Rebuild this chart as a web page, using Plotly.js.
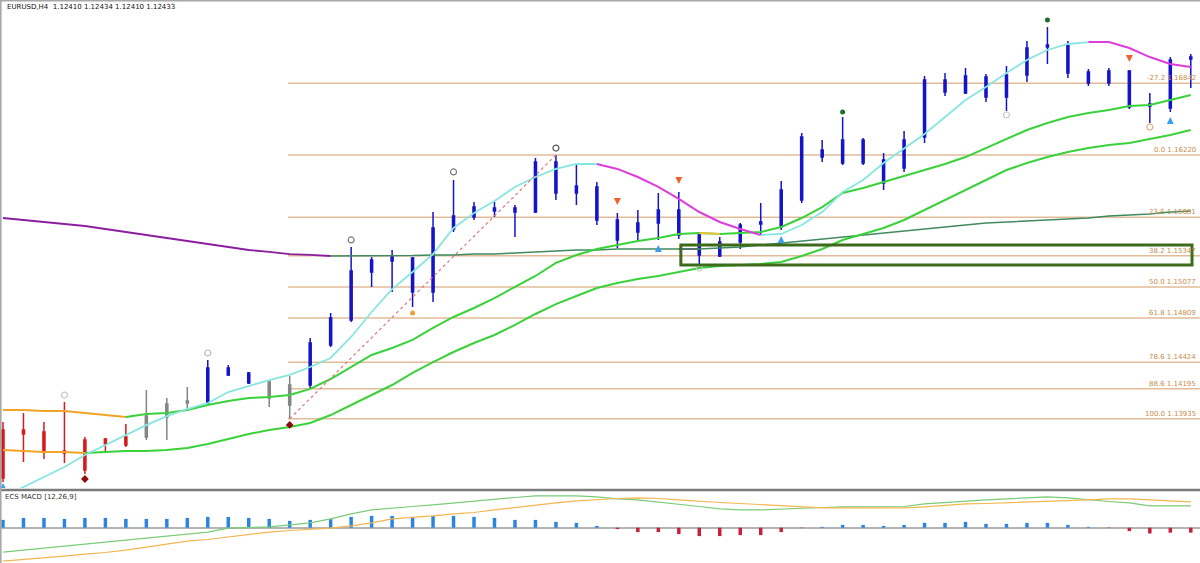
<!DOCTYPE html>
<html><head><meta charset="utf-8">
<script src="https://cdn.plot.ly/plotly-3.0.1.min.js"></script>
<style>html,body{margin:0;padding:0;background:#fff;}#chart{width:1200px;height:563px;}</style>
</head><body><div id="chart"></div>
<script>
// ---------- DATA ----------
const bars = [...Array(59).keys()];
const open  = [1.13838,1.13838,1.13821,1.13656,1.13752,1.13760,1.13778,1.13778,1.13951,1.14072,
               1.14072,1.14375,1.14332,1.14254,1.14055,1.14228,1.14574,1.14791,1.15310,1.15302,
               1.15328,1.15033,1.15579,1.15769,1.15735,1.15761,1.15726,1.16159,1.15891,1.15943,
               1.15657,1.15553,1.15631,1.15743,1.15544,1.15345,1.15466,1.15622,1.15596,1.15830,
               1.16263,1.16150,1.16350,1.16176,1.16107,1.16376,1.16869,1.16757,1.16895,1.16722,
               1.16912,1.17172,1.17172,1.16843,1.16947,1.16947,1.16644,1.16627,1.17051];
const high  = [1.13908,1.13985,1.13908,1.14081,1.13778,1.13769,1.13890,1.14185,1.14115,1.14211,
               1.14444,1.14401,1.14341,1.14263,1.14306,1.14635,1.14851,1.15423,1.15336,1.15397,
               1.15336,1.15726,1.16003,1.15813,1.15813,1.15787,1.16194,1.16220,1.16133,1.15986,
               1.15717,1.15743,1.15891,1.15899,1.15553,1.15510,1.15631,1.15804,1.15995,1.16410,
               1.16350,1.16549,1.16367,1.16237,1.16428,1.16904,1.16930,1.16973,1.16921,1.16990,
               1.17207,1.17328,1.17207,1.16964,1.16973,1.16956,1.16757,1.17068,1.17094];
const low   = [1.13388,1.13561,1.13587,1.13552,1.13457,1.13648,1.13691,1.13752,1.13752,1.14011,
               1.14063,1.14306,1.14237,1.14037,1.13935,1.14202,1.14557,1.14774,1.15077,1.15033,
               1.14903,1.14947,1.15553,1.15657,1.15683,1.15510,1.15717,1.15830,1.15787,1.15614,
               1.15414,1.15466,1.15484,1.15492,1.15276,1.15336,1.15406,1.15527,1.15570,1.15804,
               1.16159,1.16133,1.16133,1.15917,1.16072,1.16324,1.16731,1.16748,1.16679,1.16601,
               1.16852,1.17008,1.16887,1.16817,1.16817,1.16618,1.16497,1.16592,1.16800];
const close = [1.13423,1.13804,1.13648,1.13639,1.13492,1.13717,1.13708,1.13959,1.14063,1.14089,
               1.14375,1.14315,1.14245,1.14115,1.14228,1.14592,1.14808,1.15215,1.15207,1.15336,
               1.15033,1.15588,1.15691,1.15683,1.15761,1.15726,1.16159,1.15891,1.15951,1.15657,
               1.15484,1.15631,1.15743,1.15527,1.15354,1.15466,1.15614,1.15640,1.15917,1.16376,
               1.16202,1.16350,1.16150,1.15977,1.16350,1.16869,1.16765,1.16904,1.16722,1.16912,
               1.17146,1.17155,1.16930,1.16938,1.16843,1.16635,1.16661,1.17042,1.17068];
// indicator state of each candle: bear (red), flat (gray), bull (blue)
const candleState = ['bear','bear','bear','bear','bear','bear','bear','flat','flat','flat',
                     'bull','bull','bull','flat','flat','bull','bull','bull','bull','bull',
                     'bull','bull','bull','bull','bull','bull','bull','bull','bull','bull',
                     'bull','bull','bull','bull','bull','bull','bull','bull','bull','bull',
                     'bull','bull','bull','bull','bull','bull','bull','bull','bull','bull',
                     'bull','bull','bull','bull','bull','bull','bull','bull','bull'];

const maFast = [1.13258,1.13345,1.13431,1.13518,1.13622,1.13708,1.13795,1.13881,1.13959,1.14020,
                1.14072,1.14167,1.14219,1.14271,1.14315,1.14384,1.14462,1.14644,1.14860,1.15059,
                1.15207,1.15362,1.15588,1.15717,1.15821,1.15943,1.16029,1.16099,1.16142,1.16142,
                1.16099,1.16029,1.15943,1.15839,1.15726,1.15640,1.15579,1.15527,1.15536,1.15614,
                1.15726,1.15899,1.16003,1.16150,1.16280,1.16402,1.16549,1.16696,1.16809,1.16930,
                1.17042,1.17129,1.17181,1.17198,1.17198,1.17146,1.17068,1.17008,1.16982];
const maSlow = [1.15674,1.15657,1.15640,1.15622,1.15605,1.15579,1.15553,1.15527,1.15501,1.15475,
                1.15449,1.15423,1.15397,1.15380,1.15362,1.15354,1.15345,1.15345,1.15345,1.15345,
                1.15349,1.15354,1.15354,1.15362,1.15362,1.15371,1.15380,1.15388,1.15397,1.15397,
                1.15406,1.15406,1.15406,1.15406,1.15406,1.15414,1.15423,1.15440,1.15458,1.15475,
                1.15492,1.15510,1.15527,1.15544,1.15562,1.15579,1.15596,1.15614,1.15631,1.15640,
                1.15648,1.15657,1.15666,1.15674,1.15691,1.15700,1.15709,1.15726,1.15735];
const maMid  = [1.14011,1.14011,1.14003,1.14003,1.13985,1.13968,1.13951,1.13977,1.13985,1.14011,
                1.14055,1.14089,1.14115,1.14124,1.14141,1.14194,1.14280,1.14384,1.14488,1.14548,
                1.14618,1.14722,1.14817,1.14895,1.14981,1.15077,1.15172,1.15286,1.15354,1.15406,
                1.15440,1.15475,1.15501,1.15536,1.15544,1.15536,1.15544,1.15553,1.15596,1.15674,
                1.15769,1.15891,1.15934,1.15986,1.16038,1.16090,1.16142,1.16202,1.16280,1.16358,
                1.16436,1.16497,1.16549,1.16583,1.16609,1.16644,1.16653,1.16696,1.16739];
const maLow  = [1.13665,1.13656,1.13648,1.13648,1.13639,1.13648,1.13656,1.13656,1.13665,1.13682,
                1.13717,1.13760,1.13804,1.13838,1.13864,1.13899,1.13968,1.14055,1.14141,1.14228,
                1.14332,1.14427,1.14514,1.14592,1.14661,1.14748,1.14843,1.14929,1.14999,1.15068,
                1.15111,1.15146,1.15172,1.15207,1.15241,1.15258,1.15267,1.15276,1.15293,1.15345,
                1.15406,1.15484,1.15536,1.15588,1.15657,1.15743,1.15830,1.15917,1.16003,1.16090,
                1.16150,1.16202,1.16246,1.16280,1.16306,1.16324,1.16358,1.16393,1.16436];

const macdHist = [0.00039,0.00049,0.00049,0.00044,0.00049,0.00049,0.00044,0.00044,0.00044,0.00049,
                  0.00054,0.00054,0.00049,0.00044,0.00034,0.00039,0.00044,0.00054,0.00059,0.00059,
                  0.00054,0.00059,0.00059,0.00054,0.00049,0.00039,0.00039,0.00029,0.00024,0.00009,
                  -0.00007,-0.00022,-0.00022,-0.00032,-0.00042,-0.00042,-0.00037,-0.00037,-0.00022,-0.00002,
                  0.00004,0.00014,0.00014,0.00009,0.00014,0.00024,0.00024,0.00029,0.00019,0.00019,
                  0.00024,0.00024,0.00014,0.00004,-0.00002,-0.00017,-0.00029,-0.00025,-0.00025];
const macdMain = [-0.00122,-0.00112,-0.00102,-0.00092,-0.00082,-0.00074,-0.00064,-0.00052,-0.00042,-0.00032,
                  -0.00022,-0.00002,0.00001,0.00004,0.00014,0.00024,0.00044,0.00069,0.00089,0.00096,
                  0.00106,0.00114,0.00124,0.00134,0.00144,0.00151,0.00159,0.00159,0.00159,0.00154,
                  0.00144,0.00139,0.00129,0.00119,0.00106,0.00094,0.00089,0.00089,0.00094,0.00099,
                  0.00101,0.00104,0.00104,0.00104,0.00106,0.00119,0.00126,0.00134,0.00139,0.00144,
                  0.00149,0.00154,0.00149,0.00139,0.00131,0.00124,0.00109,0.00109,0.00109];
const macdSignal = [-0.00167,-0.00159,-0.00152,-0.00142,-0.00132,-0.00124,-0.00112,-0.00097,-0.00082,-0.00067,
                    -0.00059,-0.00047,-0.00034,-0.00022,-0.00014,-0.00009,-0.00002,0.00009,0.00024,0.00044,
                    0.00051,0.00059,0.00069,0.00076,0.00089,0.00101,0.00114,0.00124,0.00134,0.00141,
                    0.00146,0.00149,0.00146,0.00139,0.00131,0.00126,0.00121,0.00116,0.00111,0.00104,
                    0.00099,0.00099,0.00099,0.00099,0.00099,0.00104,0.00111,0.00119,0.00121,0.00124,
                    0.00129,0.00131,0.00136,0.00139,0.00144,0.00144,0.00139,0.00134,0.00129];

// Fibonacci retracement (anchored low bar 14 -> high bar 27)
const fibLevels = ['-27.2','0.0','23.6','38.2','50.0','61.8','78.6','88.6','100.0'];
const fibPrices = [1.16842,1.16220,1.15681,1.15347,1.15077,1.14809,1.14424,1.14195,1.13935];
const fibAnchorBars = [14, 27];
const fibAnchorPrices = [1.13935, 1.16220];

// signal markers
const upArrowBars = [0, 32, 38, 57];
const upArrowPrices = [1.13379, 1.15440, 1.15518, 1.16549];
const downArrowBars = [30, 33, 55];
const downArrowPrices = [1.15787, 1.15969, 1.17025];
const diamondBars = [4, 14];
const diamondPrices = [1.13414, 1.13882];
const ringBars = [3, 10, 17, 22, 27, 34, 49, 56];
const ringPrices = [1.14141, 1.14505, 1.15484, 1.16073, 1.16280, 1.15241, 1.16566, 1.16462];
const greenDotBars = [41, 51];
const greenDotPrices = [1.16592, 1.17389];
const orangeDotBars = [20];
const orangeDotPrices = [1.14851];

// zone box (bars / prices)
const zoneBars = [33.1, 58.06];
const zonePrices = [1.15267, 1.15440];

const chartTitle = 'EURUSD,H4  1.12410 1.12434 1.12410 1.12433';
const macdTitle = 'ECS MACD [12,26,9]';

// ---------- BUILD ----------
function seg(arr, ranges) {
  return arr.map((v, i) => ranges.some(([a, b]) => i >= a && i <= b) ? v : null);
}
const stateColor = {bear: '#d41c1c', flat: '#858585', bull: '#1414c8'};
const traces = [];

function line(y, color, width, axis, dash) {
  return {type: 'scatter', mode: 'lines', x: bars, y: y, yaxis: axis || 'y',
          line: {color: color, width: width, dash: dash || 'solid'}, hoverinfo: 'skip', connectgaps: false};
}
// moving averages
traces.push(line(seg(maSlow, [[0, 16], [33, 34]]), '#8a1f9e', 1.8));
traces.push(line(seg(maSlow, [[16, 33], [34, 58]]), '#3f8a5e', 1.5));
traces.push(line(seg(maLow, [[0, 4]]), '#f0a428', 2));
traces.push(line(seg(maLow, [[4, 58]]), '#3ad23a', 2));
traces.push(line(seg(maMid, [[0, 6]]), '#f0a428', 2));
traces.push(line(seg(maMid, [[6, 34], [35, 58]]), '#3ad23a', 2));
traces.push(line(seg(maMid, [[34, 35]]), '#f0c040', 2));
traces.push(line(seg(maFast, [[0, 29], [37, 53]]), '#86e6e0', 1.8));
traces.push(line(seg(maFast, [[29, 37], [53, 58]]), '#dd3ddd', 2));

// fib anchor line
traces.push({type: 'scatter', mode: 'lines', x: fibAnchorBars, y: fibAnchorPrices,
             line: {color: '#e07878', width: 1.2, dash: 'dot'}, hoverinfo: 'skip'});

// candles by state
['bear', 'flat', 'bull'].forEach(st => {
  const ids = bars.filter(i => candleState[i] === st);
  const c = stateColor[st];
  traces.push({type: 'candlestick', x: ids, open: ids.map(i => open[i]), high: ids.map(i => high[i]),
               low: ids.map(i => low[i]), close: ids.map(i => close[i]), whiskerwidth: 0,
               increasing: {line: {color: c, width: 1.5}, fillcolor: c},
               decreasing: {line: {color: c, width: 1.5}, fillcolor: c}, hoverinfo: 'skip'});
});

// markers
function mk(x, y, symbol, color, size, lw) {
  return {type: 'scatter', mode: 'markers', x: x, y: y, hoverinfo: 'skip',
          marker: {symbol: symbol, color: color, size: size, line: {color: color, width: lw || 0}}};
}
traces.push(mk(upArrowBars, upArrowPrices, 'arrow-up', '#3c9cf0', 7));
traces.push(mk(downArrowBars, downArrowPrices, 'arrow-down', '#f0622a', 7));
traces.push(mk(diamondBars, diamondPrices, 'diamond', '#8e0c0c', 6));
traces.push({type: 'scatter', mode: 'markers', x: ringBars, y: ringPrices, hoverinfo: 'skip',
             marker: {symbol: 'circle-open', size: 6,
                      color: ['#c8c8c8', '#b8b8b8', '#7a7a7a', '#7a7a7a', '#555555', '#c8c8c8', '#c8c8c8', '#d8b488'],
                      line: {width: 1.2}}});
traces.push(mk(greenDotBars, greenDotPrices, 'circle', '#1e6e2a', 5));
traces.push(mk(orangeDotBars, orangeDotPrices, 'circle', '#f0a030', 5));

// MACD panel
traces.push({type: 'bar', x: bars, y: macdHist, yaxis: 'y2', width: 0.17,
             marker: {color: macdHist.map(v => v >= 0 ? '#2a84e0' : '#c8203c')}, hoverinfo: 'skip'});
traces.push(line(macdMain, '#7acc7a', 1.2, 'y2'));
traces.push(line(macdSignal, '#f4b650', 1.2, 'y2'));

// shapes
const shapes = [];
fibPrices.forEach(p => shapes.push({type: 'line', xref: 'x', yref: 'y', x0: fibAnchorBars[0] - 0.08, x1: 59,
  y0: p, y1: p, line: {color: '#e2bc98', width: 1.5}, layer: 'below'}));
shapes.push({type: 'rect', xref: 'x', yref: 'y', x0: zoneBars[0], x1: zoneBars[1], y0: zonePrices[0], y1: zonePrices[1],
  line: {color: '#3d6b1c', width: 3}});
shapes.push({type: 'line', xref: 'paper', yref: 'paper', x0: 0, x1: 1, y0: 0.1297, y1: 0.1297, line: {color: '#7c7c7c', width: 2.5}});
shapes.push({type: 'line', xref: 'paper', yref: 'paper', x0: 0, x1: 1, y0: 0.999, y1: 0.999, line: {color: '#a8a8a8', width: 2}});
shapes.push({type: 'line', xref: 'paper', yref: 'paper', x0: 0.0005, x1: 0.0005, y0: 0, y1: 1, line: {color: '#a8a8a8', width: 2}});

const annotations = fibLevels.map((lv, k) => ({xref: 'paper', yref: 'y', x: 0.998, y: fibPrices[k], xanchor: 'right', yanchor: 'middle',
  yshift: 5, showarrow: false, text: lv + ' ' + fibPrices[k].toFixed(5), font: {family: 'DejaVu Sans', size: 7, color: '#c88c4c'}}));
annotations.push({xref: 'paper', yref: 'paper', x: 0.004, y: 1 - 7 / 563, xanchor: 'left', yanchor: 'middle', showarrow: false,
  text: chartTitle, font: {family: 'DejaVu Sans', size: 7, color: '#111'}});
annotations.push({xref: 'paper', yref: 'paper', x: 0.0025, y: 1 - 497 / 563, xanchor: 'left', yanchor: 'middle', showarrow: false,
  text: macdTitle, font: {family: 'DejaVu Sans', size: 7, color: '#333'}});

const layout = {
  width: 1200, height: 563, margin: {l: 0, r: 0, t: 0, b: 0},
  paper_bgcolor: '#ffffff', plot_bgcolor: '#ffffff', showlegend: false,
  boxgap: 0.9, boxgroupgap: 0,
  xaxis: {range: [-0.146, 58.45], showticklabels: false, showgrid: false, zeroline: false, showline: false, ticks: '',
          rangeslider: {visible: false}, fixedrange: true},
  yaxis: {domain: [0.1332, 1], range: [1.13336, 1.17562], showticklabels: false, showgrid: false, zeroline: false, ticks: ''},
  yaxis2: {domain: [0, 0.1279], range: [-0.001765, 0.001835], showticklabels: false, showgrid: false,
           zeroline: true, zerolinecolor: '#b4b4b4', zerolinewidth: 2, ticks: ''},
  shapes: shapes, annotations: annotations, hovermode: false
};
Plotly.newPlot('chart', traces, layout, {displayModeBar: false, staticPlot: true});
</script></body></html>
